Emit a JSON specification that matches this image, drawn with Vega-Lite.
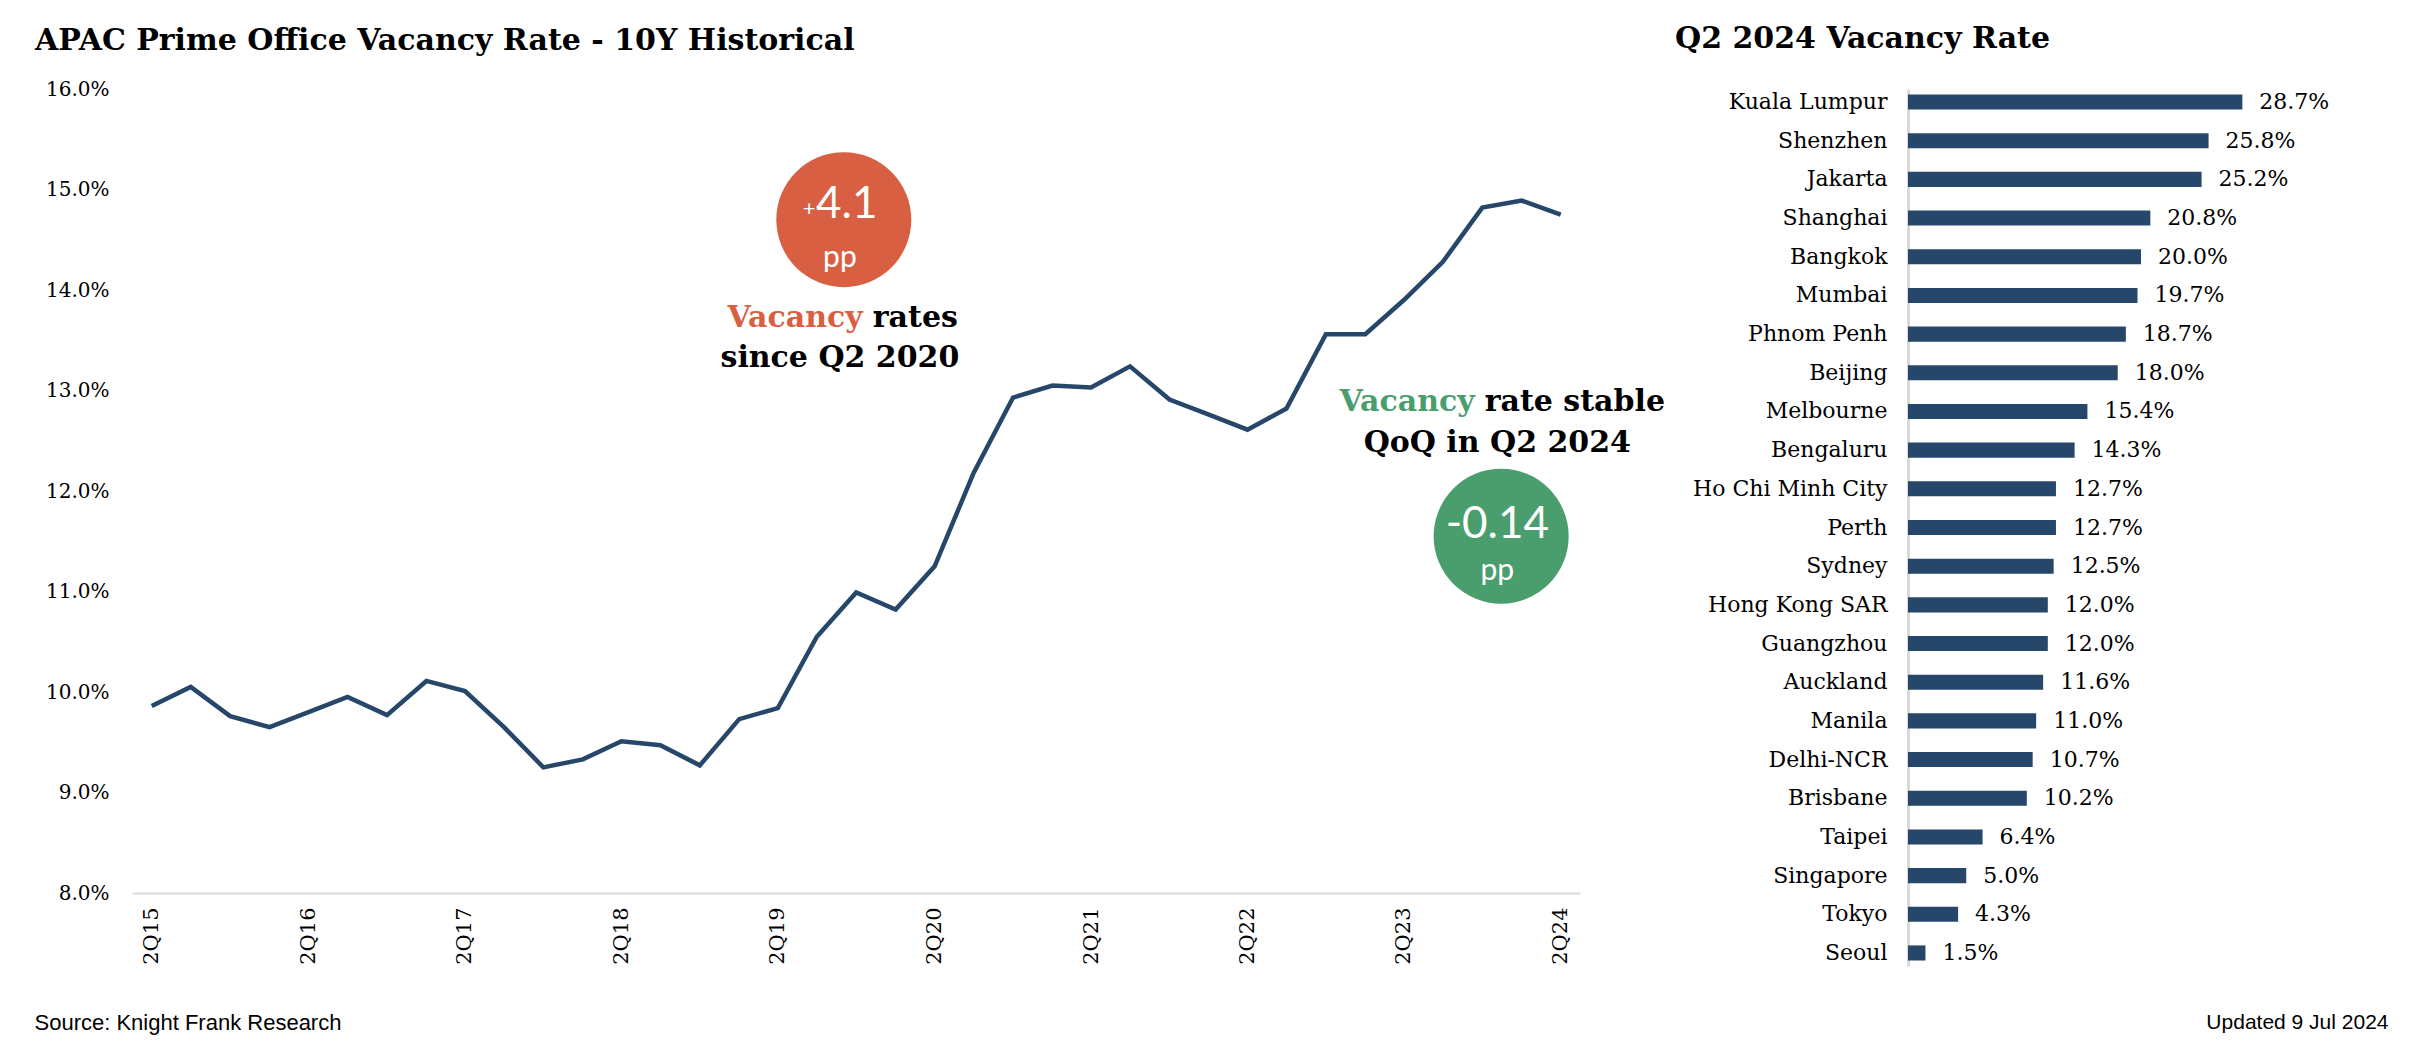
{
  "$schema": "https://vega.github.io/schema/vega-lite/v6.json",
  "background": "white",
  "padding": {"left": 34, "top": 24, "right": 5, "bottom": 5},
  "config": {
    "view": {"stroke": null},
    "axis": {"labelColor": "#000000", "titleColor": "#000000"},
    "title": {"color": "#000000"}
  },
  "bounds": "flush",
  "spacing": 328,
  "hconcat": [
    {
      "width": 1448,
      "height": 804,
      "title": {
        "text": "APAC Prime Office Vacancy Rate - 10Y Historical",
        "anchor": "start",
        "frame": "group",
        "dx": -97,
        "font": "DejaVu Serif",
        "fontSize": 30,
        "fontWeight": "bold",
        "offset": 23
      },
      "layer": [
        {
          "data": {
            "values": [
              {"q": "2015-04-01", "v": 9.86},
              {"q": "2015-07-01", "v": 10.05},
              {"q": "2015-10-01", "v": 9.76},
              {"q": "2016-01-01", "v": 9.65},
              {"q": "2016-04-01", "v": 9.80},
              {"q": "2016-07-01", "v": 9.95},
              {"q": "2016-10-01", "v": 9.77},
              {"q": "2017-01-01", "v": 10.11},
              {"q": "2017-04-01", "v": 10.01},
              {"q": "2017-07-01", "v": 9.65},
              {"q": "2017-10-01", "v": 9.25},
              {"q": "2018-01-01", "v": 9.33},
              {"q": "2018-04-01", "v": 9.51},
              {"q": "2018-07-01", "v": 9.47},
              {"q": "2018-10-01", "v": 9.27},
              {"q": "2019-01-01", "v": 9.73},
              {"q": "2019-04-01", "v": 9.84},
              {"q": "2019-07-01", "v": 10.55},
              {"q": "2019-10-01", "v": 10.99},
              {"q": "2020-01-01", "v": 10.82},
              {"q": "2020-04-01", "v": 11.25},
              {"q": "2020-07-01", "v": 12.18},
              {"q": "2020-10-01", "v": 12.93},
              {"q": "2021-01-01", "v": 13.05},
              {"q": "2021-04-01", "v": 13.03},
              {"q": "2021-07-01", "v": 13.24},
              {"q": "2021-10-01", "v": 12.91},
              {"q": "2022-01-01", "v": 12.76},
              {"q": "2022-04-01", "v": 12.61},
              {"q": "2022-07-01", "v": 12.82},
              {"q": "2022-10-01", "v": 13.56},
              {"q": "2023-01-01", "v": 13.56},
              {"q": "2023-04-01", "v": 13.90},
              {"q": "2023-07-01", "v": 14.28},
              {"q": "2023-10-01", "v": 14.82},
              {"q": "2024-01-01", "v": 14.89},
              {"q": "2024-04-01", "v": 14.75}
            ]
          },
          "mark": {"type": "line", "color": "#264769", "strokeWidth": 4.5, "strokeJoin": "miter"},
          "encoding": {
            "x": {
              "field": "q",
              "type": "temporal",
              "scale": {
                "type": "utc",
                "domain": [
                  {"year": 2015, "month": 2, "date": 14, "utc": true},
                  {"year": 2024, "month": 5, "date": 16, "utc": true}
                ]
              },
              "axis": {
                "values": [
                  {"year": 2015, "month": 4, "date": 1, "utc": true},
                  {"year": 2016, "month": 4, "date": 1, "utc": true},
                  {"year": 2017, "month": 4, "date": 1, "utc": true},
                  {"year": 2018, "month": 4, "date": 1, "utc": true},
                  {"year": 2019, "month": 4, "date": 1, "utc": true},
                  {"year": 2020, "month": 4, "date": 1, "utc": true},
                  {"year": 2021, "month": 4, "date": 1, "utc": true},
                  {"year": 2022, "month": 4, "date": 1, "utc": true},
                  {"year": 2023, "month": 4, "date": 1, "utc": true},
                  {"year": 2024, "month": 4, "date": 1, "utc": true}
                ],
                "format": "%qQ%y",
                "labelAngle": -90,
                "labelFont": "DejaVu Serif",
                "labelFontSize": 21,
                "labelPadding": 14,
                "ticks": false,
                "grid": false,
                "domainColor": "#d9d9d9",
                "domainWidth": 2,
                "title": "Source: Knight Frank Research",
                "titleFont": "Liberation Sans",
                "titleFontSize": 22,
                "titleFontWeight": "normal",
                "titleAlign": "left",
                "titleAnchor": "start",
                "titleX": -98,
                "titleY": 129,
                "titleBaseline": "middle"
              }
            },
            "y": {
              "field": "v",
              "type": "quantitative",
              "scale": {"domain": [8, 16], "nice": false, "zero": false},
              "axis": {
                "values": [8, 9, 10, 11, 12, 13, 14, 15, 16],
                "labelExpr": "format(datum.value, '.1f') + '%'",
                "labelFont": "DejaVu Serif",
                "labelFontSize": 20,
                "labelPadding": 23,
                "ticks": false,
                "domain": false,
                "grid": false,
                "title": null
              }
            }
          }
        },
        {
          "data": {
            "values": [
              {"q": "2019-09-02", "v": 14.70, "kind": "up"},
              {"q": "2023-11-14", "v": 11.55, "kind": "down"}
            ]
          },
          "mark": {"type": "circle", "size": 18225, "opacity": 1},
          "encoding": {
            "x": {"field": "q", "type": "temporal"},
            "y": {"field": "v", "type": "quantitative"},
            "color": {
              "field": "kind",
              "type": "nominal",
              "scale": {"domain": ["up", "down"], "range": ["#d95f43", "#4a9e6e"]},
              "legend": null
            }
          }
        },
        {
          "data": {
            "values": [
              {"q": "2019-09-09", "v": 14.72, "label": "4.1"},
              {"q": "2023-11-05", "v": 11.53, "label": "-0.14"}
            ]
          },
          "mark": {"type": "text", "font": "Lato", "fontSize": 44, "color": "#ffffff", "align": "center", "baseline": "alphabetic"},
          "encoding": {
            "x": {"field": "q", "type": "temporal"},
            "y": {"field": "v", "type": "quantitative"},
            "text": {"field": "label"}
          }
        },
        {
          "data": {"values": [{"q": "2019-06-13", "v": 14.74, "label": "+"}]},
          "mark": {"type": "text", "font": "Lato", "fontSize": 22, "color": "#ffffff", "align": "center", "baseline": "alphabetic"},
          "encoding": {
            "x": {"field": "q", "type": "temporal"},
            "y": {"field": "v", "type": "quantitative"},
            "text": {"field": "label"}
          }
        },
        {
          "data": {
            "values": [
              {"q": "2019-08-24", "v": 14.23, "label": "pp"},
              {"q": "2023-11-05", "v": 11.11, "label": "pp"}
            ]
          },
          "mark": {"type": "text", "font": "Lato", "fontSize": 30, "color": "#ffffff", "align": "center", "baseline": "alphabetic"},
          "encoding": {
            "x": {"field": "q", "type": "temporal"},
            "y": {"field": "v", "type": "quantitative"},
            "text": {"field": "label"}
          }
        },
        {
          "data": {
            "values": [
              {"q": "2019-10-28", "v": 13.72, "label": "Vacancy", "kind": "up"},
              {"q": "2023-09-25", "v": 12.89, "label": "Vacancy", "kind": "down"}
            ]
          },
          "mark": {"type": "text", "font": "DejaVu Serif", "fontWeight": "bold", "fontSize": 30, "align": "right", "baseline": "middle", "dx": -5},
          "encoding": {
            "x": {"field": "q", "type": "temporal"},
            "y": {"field": "v", "type": "quantitative"},
            "text": {"field": "label"},
            "color": {"field": "kind", "type": "nominal", "legend": null}
          }
        },
        {
          "data": {
            "values": [
              {"q": "2019-10-28", "v": 13.72, "label": "rates"},
              {"q": "2023-09-25", "v": 12.89, "label": "rate stable"}
            ]
          },
          "mark": {"type": "text", "font": "DejaVu Serif", "fontWeight": "bold", "fontSize": 30, "align": "left", "baseline": "middle", "dx": 5, "color": "#000000"},
          "encoding": {
            "x": {"field": "q", "type": "temporal"},
            "y": {"field": "v", "type": "quantitative"},
            "text": {"field": "label"}
          }
        },
        {
          "data": {
            "values": [
              {"q": "2019-08-24", "v": 13.32, "label": "since Q2 2020"},
              {"q": "2023-11-05", "v": 12.48, "label": "QoQ in Q2 2024"}
            ]
          },
          "mark": {"type": "text", "font": "DejaVu Serif", "fontWeight": "bold", "fontSize": 30, "align": "center", "baseline": "middle", "color": "#000000"},
          "encoding": {
            "x": {"field": "q", "type": "temporal"},
            "y": {"field": "v", "type": "quantitative"},
            "text": {"field": "label"}
          }
        }
      ]
    },
    {
      "width": 480,
      "height": 877,
      "title": {
        "text": "Q2 2024 Vacancy Rate",
        "anchor": "start",
        "frame": "group",
        "dx": -233,
        "font": "DejaVu Serif",
        "fontSize": 30,
        "fontWeight": "bold",
        "offset": 35
      },
      "data": {
        "values": [
          {"city": "Kuala Lumpur", "rate": 0.287},
          {"city": "Shenzhen", "rate": 0.258},
          {"city": "Jakarta", "rate": 0.252},
          {"city": "Shanghai", "rate": 0.208},
          {"city": "Bangkok", "rate": 0.200},
          {"city": "Mumbai", "rate": 0.197},
          {"city": "Phnom Penh", "rate": 0.187},
          {"city": "Beijing", "rate": 0.180},
          {"city": "Melbourne", "rate": 0.154},
          {"city": "Bengaluru", "rate": 0.143},
          {"city": "Ho Chi Minh City", "rate": 0.127},
          {"city": "Perth", "rate": 0.127},
          {"city": "Sydney", "rate": 0.125},
          {"city": "Hong Kong SAR", "rate": 0.120},
          {"city": "Guangzhou", "rate": 0.120},
          {"city": "Auckland", "rate": 0.116},
          {"city": "Manila", "rate": 0.110},
          {"city": "Delhi-NCR", "rate": 0.107},
          {"city": "Brisbane", "rate": 0.102},
          {"city": "Taipei", "rate": 0.064},
          {"city": "Singapore", "rate": 0.050},
          {"city": "Tokyo", "rate": 0.043},
          {"city": "Seoul", "rate": 0.015}
        ]
      },
      "encoding": {
        "y": {
          "field": "city",
          "type": "nominal",
          "sort": null,
          "scale": {"paddingInner": 0.61, "paddingOuter": 0.142},
          "axis": {
            "labelFont": "DejaVu Serif",
            "labelFontSize": 22,
            "labelPadding": 21,
            "labelLimit": 400,
            "ticks": false,
            "domainColor": "#d9d9d9",
            "domainWidth": 3,
            "title": null
          }
        },
        "x": {
          "field": "rate",
          "type": "quantitative",
          "scale": {"domain": [0, 0.412], "nice": false},
          "axis": {
            "labels": false,
            "ticks": false,
            "domain": false,
            "grid": false,
            "title": "Updated 9 Jul 2024",
            "titleFont": "Liberation Sans",
            "titleFontSize": 21,
            "titleFontWeight": "normal",
            "titleAlign": "right",
            "titleAnchor": "end",
            "titleX": 480,
            "titleY": 56,
            "titleBaseline": "middle"
          }
        }
      },
      "layer": [
        {"mark": {"type": "bar", "color": "#264769"}},
        {
          "mark": {"type": "text", "font": "DejaVu Serif", "fontSize": 22, "align": "left", "baseline": "middle", "dx": 17, "color": "#000000"},
          "encoding": {"text": {"field": "rate", "format": ".1%"}}
        }
      ]
    }
  ]
}
